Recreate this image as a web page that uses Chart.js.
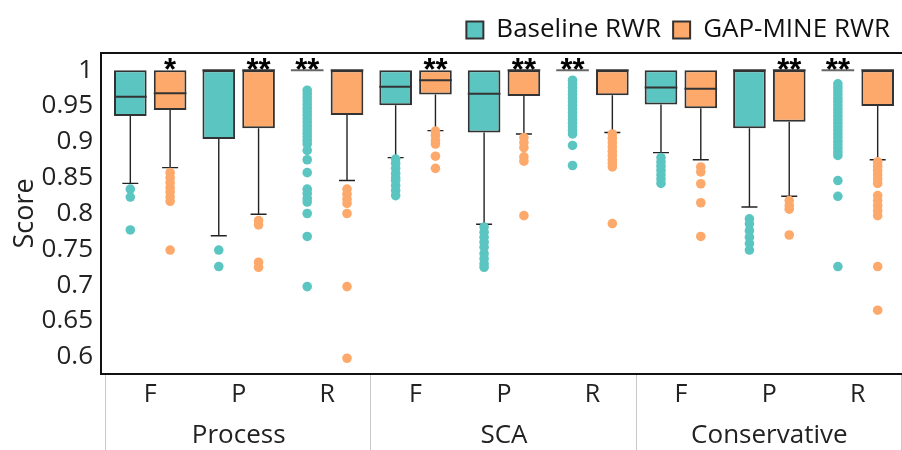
<!DOCTYPE html>
<html>
<head>
<meta charset="utf-8">
<script src="https://cdn.jsdelivr.net/npm/chart.js@4/dist/chart.umd.min.js"></script>
<style>
html,body{margin:0;padding:0;background:#fff;}
#wrap{width:902px;height:450px;position:relative;}
</style>
</head>
<body>
<div id="wrap"><canvas id="c"></canvas></div>
<script>
// ---- data ----
const categories = ['F','P','R','F','P','R','F','P','R'];
const groups = ['Process','SCA','Conservative'];
const yTicks = [1,0.95,0.9,0.85,0.8,0.75,0.7,0.65,0.6];
const seriesNames = ['Baseline RWR','GAP-MINE RWR'];

const baseQ1      = [0.936,0.904,1,0.951,0.913,1,0.952,0.919,1];
const baseMedian  = [0.963,1,1,0.977,0.967,1,0.976,1,1];
const baseQ3      = [1,1,1,1,1,1,1,1,1];
const baseLow     = [0.842,0.769,1,0.878,0.785,1,0.885,0.809,1];
const baseOutliers = [
  [0.834,0.823,0.777],
  [0.749,0.726],
  [0.972,0.967,0.962,0.957,0.952,0.947,0.942,0.937,0.932,0.927,0.922,0.917,0.912,0.907,0.902,0.897,0.888,0.875,0.857,0.834,0.828,0.821,0.816,0.800,0.768,0.698],
  [0.876,0.870,0.863,0.856,0.850,0.846,0.839,0.832,0.825],
  [0.781,0.774,0.767,0.760,0.753,0.744,0.737,0.730,0.725],
  [0.986,0.981,0.976,0.971,0.966,0.961,0.956,0.951,0.946,0.941,0.936,0.931,0.926,0.921,0.916,0.911,0.895,0.867],
  [0.878,0.872,0.866,0.860,0.854,0.848,0.842],
  [0.7925,0.7856,0.776,0.767,0.758,0.749],
  [0.981,0.976,0.971,0.966,0.961,0.956,0.951,0.946,0.941,0.936,0.931,0.926,0.921,0.916,0.911,0.906,0.901,0.896,0.891,0.886,0.881,0.846,0.824,0.726]
];
const gapQ1      = [0.9445,0.919,0.9375,0.966,0.964,0.965,0.947,0.928,0.950];
const gapMedian  = [0.968,1,1,0.986,1,1,0.974,1,1];
const gapQ3      = [1,1,1,1,1,1,1,1,1];
const gapLow     = [0.864,0.799,0.846,0.9156,0.911,0.913,0.875,0.824,0.875];
const gapOutliers = [
  [0.857,0.850,0.843,0.836,0.830,0.823,0.817,0.749],
  [0.790,0.784,0.732,0.725],
  [0.834,0.827,0.820,0.814,0.800,0.698,0.598],
  [0.915,0.909,0.902,0.897,0.880,0.863],
  [0.906,0.899,0.892,0.879,0.873,0.797],
  [0.911,0.905,0.899,0.893,0.887,0.881,0.875,0.870,0.865,0.786],
  [0.865,0.858,0.8415,0.815,0.768],
  [0.818,0.811,0.806,0.770],
  [0.872,0.866,0.860,0.854,0.848,0.842,0.825,0.818,0.811,0.804,0.797,0.726,0.665]
];
const baseSig = ['','','**','','','**','','','**'];
const gapSig  = ['*','**','','**','**','','','**',''];

// ---- styling ----
const TEAL = '#5bc5c2';
const ORANGE = '#fda96b';
const FONT = "'Open Sans', sans-serif";

const stats = [
  {q1: baseQ1, q3: baseQ3, med: baseMedian, low: baseLow, out: baseOutliers, sig: baseSig, color: TEAL},
  {q1: gapQ1, q3: gapQ3, med: gapMedian, low: gapLow, out: gapOutliers, sig: gapSig, color: ORANGE}
];

const boxPlugin = {
  id: 'boxExtras',
  beforeDatasetsDraw(chart) {
    const ctx = chart.ctx, y = chart.scales.y;
    ctx.save();
    stats.forEach((s, i) => {
      const meta = chart.getDatasetMeta(i);
      meta.data.forEach((bar, j) => {
        const x = bar.x;
        const yq1 = y.getPixelForValue(s.q1[j]);
        const ylo = y.getPixelForValue(s.low[j]);
        if (s.low[j] < s.q1[j]) {
          ctx.strokeStyle = '#222';
          ctx.lineWidth = 1.4;
          ctx.beginPath();
          ctx.moveTo(x, yq1); ctx.lineTo(x, ylo);
          ctx.moveTo(x - 8, ylo); ctx.lineTo(x + 8, ylo);
          ctx.stroke();
        }
      });
    });
    ctx.restore();
  },
  afterDatasetsDraw(chart) {
    const ctx = chart.ctx, y = chart.scales.y;
    ctx.save();
    stats.forEach((s, i) => {
      const meta = chart.getDatasetMeta(i);
      meta.data.forEach((bar, j) => {
        const x = bar.x, w = bar.width;
        const ym = y.getPixelForValue(s.med[j]);
        ctx.lineWidth = 2;
        ctx.strokeStyle = s.q1[j] === s.q3[j] ? '#666' : '#333';
        ctx.beginPath();
        ctx.moveTo(x - w / 2, ym); ctx.lineTo(x + w / 2, ym);
        ctx.stroke();
        ctx.fillStyle = s.color;
        s.out[j].forEach(v => {
          ctx.beginPath();
          ctx.arc(x, y.getPixelForValue(v), 4.8, 0, Math.PI * 2);
          ctx.fill();
        });
        if (s.sig[j]) {
          ctx.fillStyle = '#000';
          ctx.font = "bold 31px 'Liberation Sans', sans-serif";
          ctx.textAlign = 'center';
          ctx.textBaseline = 'alphabetic';
          ctx.fillText(s.sig[j], x, y.getPixelForValue(s.q3[j]) + 10);
        }
      });
    });
    // frame
    const a = chart.chartArea;
    const fl = a.left - 5;
    ctx.strokeStyle = '#111';
    ctx.lineWidth = 2;
    ctx.beginPath();
    ctx.moveTo(chart.width, a.top); ctx.lineTo(fl, a.top);
    ctx.lineTo(fl, a.bottom); ctx.lineTo(chart.width, a.bottom);
    ctx.stroke();
    // group separators
    const xs = chart.scales.x;
    const half = (xs.getPixelForValue(1) - xs.getPixelForValue(0)) / 2;
    ctx.strokeStyle = '#c8c8c8';
    ctx.lineWidth = 1;
    [0, 3, 6, 9].forEach(k => {
      const px = Math.round(k < 9 ? xs.getPixelForValue(k) - half : xs.getPixelForValue(8) + half) - 0.5;
      ctx.beginPath();
      ctx.moveTo(px, a.bottom + 1); ctx.lineTo(px, chart.height);
      ctx.stroke();
    });
    ctx.restore();
  }
};

new Chart(document.getElementById('c'), {
  type: 'bar',
  data: {
    labels: categories,
    datasets: [
      {label: seriesNames[0], data: baseQ1.map((v, j) => [v, baseQ3[j]]), backgroundColor: TEAL, borderColor: '#333', borderWidth: 2, borderSkipped: false},
      {label: seriesNames[1], data: gapQ1.map((v, j) => [v, gapQ3[j]]), backgroundColor: ORANGE, borderColor: '#333', borderWidth: 2, borderSkipped: false}
    ]
  },
  options: {
    responsive: true,
    maintainAspectRatio: false,
    animation: false,
    layout: {padding: {top: 5, right: 0, left: 0, bottom: 0}},
    datasets: {bar: {categoryPercentage: 0.9, barPercentage: 0.82}},
    plugins: {
      legend: {
        position: 'top',
        align: 'end',
        labels: {font: {family: FONT, size: 26}, color: '#111', boxWidth: 17, boxHeight: 17, padding: 12}
      },
      tooltip: {enabled: false}
    },
    scales: {
      x: {
        type: 'category',
        grid: {display: false, drawTicks: false},
        border: {display: false},
        ticks: {font: {family: FONT, size: 25}, color: '#222', padding: 6, maxRotation: 0},
        afterFit(s) { s.height = 42; }
      },
      x2: {
        type: 'category',
        labels: groups,
        position: 'bottom',
        grid: {display: false, drawTicks: false},
        border: {display: false},
        ticks: {font: {family: FONT, size: 26}, color: '#222', padding: 4, maxRotation: 0},
        afterFit(s) { s.height = 34; }
      },
      y: {
        min: 0.576,
        max: 1.024,
        grid: {display: false, drawTicks: false},
        border: {display: false},
        afterBuildTicks(s) { s.ticks = yTicks.map(v => ({value: v})); },
        ticks: {font: {family: FONT, size: 26}, color: '#222', padding: 13, callback: v => String(v)},
        title: {display: true, text: 'Score', font: {family: FONT, size: 27}, color: '#222', padding: {top: 9, bottom: 0}},
        afterFit(s) { s.width = 106; }
      }
    }
  },
  plugins: [boxPlugin]
});
</script>
</body>
</html>
